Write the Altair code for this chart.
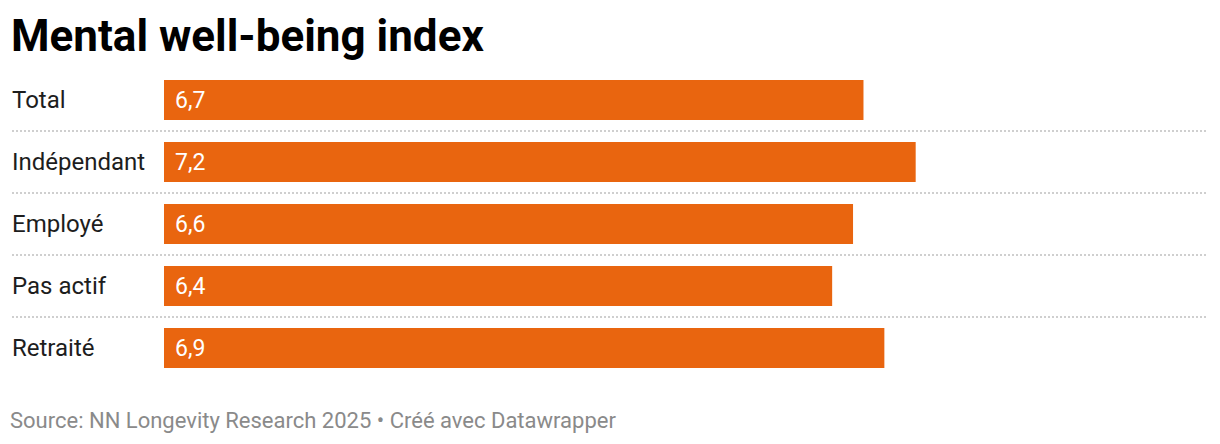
import altair as alt
import pandas as pd

categories = ["Total", "Indépendant", "Employé", "Pas actif", "Retraité"]
values = [6.7, 7.2, 6.6, 6.4, 6.9]
value_labels = ["6,7", "7,2", "6,6", "6,4", "6,9"]
separator_rows = ["Indépendant", "Employé", "Pas actif", "Retraité"]
title_text = "Mental well-being index"
footer_text = "Source: NN Longevity Research 2025 • Créé avec Datawrapper"

df = pd.DataFrame({"cat": categories, "val": values, "lab": value_labels})
sep = pd.DataFrame({"cat": separator_rows})

W, H = 1044, 310
FONT = "Roboto"
ORANGE = "#e9650f"

yscale = alt.Scale(domain=categories, paddingInner=0, paddingOuter=0)
xscale = alt.Scale(domain=[0, 10], nice=False, zero=True)

base = alt.Chart(df)

bars = base.mark_bar(size=40, color=ORANGE).encode(
    x=alt.X("val:Q", scale=xscale, axis=None),
    y=alt.Y("cat:N", scale=yscale, axis=None, sort=categories),
)

vals = base.mark_text(align="left", baseline="middle", dx=11, dy=1, font=FONT,
                      fontSize=23, color="white").encode(
    x=alt.datum(0, scale=xscale),
    y=alt.Y("cat:N", scale=yscale, axis=None, sort=categories),
    text="lab:N",
)

names = base.mark_text(align="left", baseline="middle", dy=1, font=FONT,
                       fontSize=24, color="#1d1d1d").encode(
    x=alt.value(-152),
    y=alt.Y("cat:N", scale=yscale, axis=None, sort=categories),
    text="cat:N",
)

rules = alt.Chart(sep).mark_rule(strokeDash=[2, 2], strokeWidth=2,
                                 color="#cfcfcf").encode(
    x=alt.value(-152), x2=alt.value(W),
    y=alt.Y("cat:N", scale=yscale, axis=None, sort=categories, bandPosition=0),
)

title = alt.Chart(pd.DataFrame({"t": [title_text]})).mark_text(
    align="left", baseline="alphabetic", font=FONT, fontSize=44,
    fontWeight="bold", color="#000000").encode(
    x=alt.value(-153), y=alt.value(-18.5), text="t:N")

footer = alt.Chart(pd.DataFrame({"t": [footer_text]})).mark_text(
    align="left", baseline="alphabetic", font=FONT, fontSize=22,
    color="#8a8a8a").encode(
    x=alt.value(-154), y=alt.value(359), text="t:N")

chart = alt.layer(rules, bars, vals, names, title, footer).properties(
    width=W, height=H,
    autosize=alt.AutoSizeParams(type="none"),
    padding={"left": 156, "top": 61, "right": 4, "bottom": 57},
).configure_view(stroke=None)

chart.save("out.html", embed_options={"renderer": "svg", "actions": False})
